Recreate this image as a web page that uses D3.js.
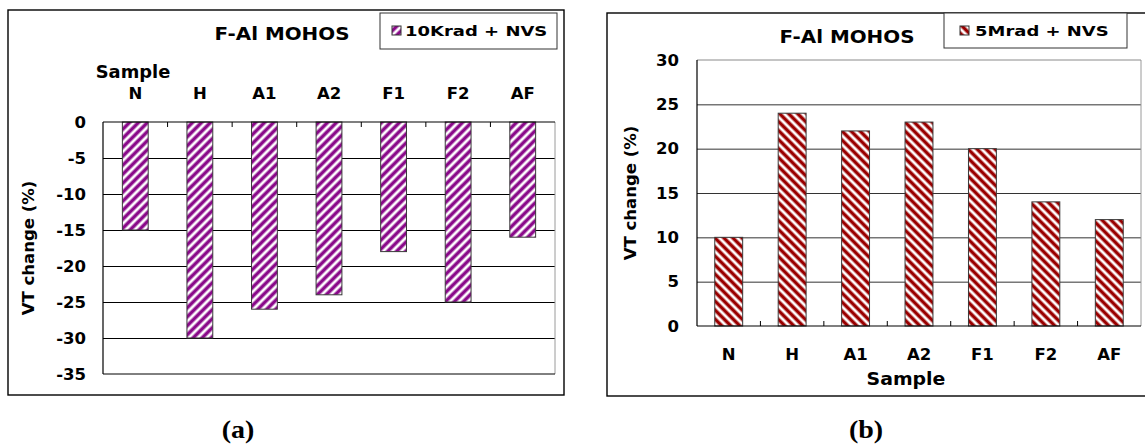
<!DOCTYPE html>
<html>
<head>
<meta charset="utf-8">
<script src="https://cdn.jsdelivr.net/npm/d3@7"></script>
<style>
  body { margin: 0; background: #fff; }
  svg { display: block; font-family: "DejaVu Sans", Arial, sans-serif; font-weight: bold; }
</style>
</head>
<body>
<svg id="chart" width="1145" height="448"></svg>
<script>
// data
const samples = ["N", "H", "A1", "A2", "F1", "F2", "AF"];
const shift10Krad = [-15, -30, -26, -24, -18, -25, -16];
const shift5Mrad = [10, 24, 22, 23, 20, 14, 12];
const ticksA = [0, -5, -10, -15, -20, -25, -30, -35];
const ticksB = [0, 5, 10, 15, 20, 25, 30];

const svg = d3.select("#chart");

// hatch patterns
const defs = svg.append("defs");
function hatch(id, color, soft, forward) {
  let p = defs.append("pattern")
    .attr("id", id)
    .attr("patternUnits", "userSpaceOnUse")
    .attr("width", 9).attr("height", 9);
  p.append("rect").attr("width", 9).attr("height", 9).attr("fill", "#fff");
  let d = forward
    ? "M0,9 L9,0 M-2,2 L2,-2 M7,11 L11,7"
    : "M0,0 L9,9 M-2,7 L2,11 M7,-2 L11,2";
  p.append("path").attr("d", d).attr("stroke", soft).attr("stroke-width", 4.6);
  p.append("path").attr("d", d).attr("stroke", color).attr("stroke-width", 2.8);
}
hatch("hatchA", "#8a0a8a", "#cf9acf", true);
hatch("hatchB", "#9a0000", "#d89a9a", false);

function txt(g, x, y, s, size, anchor, sx) {
  return g.append("text")
    .attr("transform", "translate(" + x + "," + y + ") scale(" + sx + ",1)")
    .attr("text-anchor", anchor)
    .style("font-size", size + "px")
    .text(s);
}

function drawPanel(cfg) {
  let g = svg.append("g");
  let x = d3.scaleBand()
    .domain(samples)
    .range([cfg.left, cfg.right])
    .paddingInner(cfg.padIn)
    .paddingOuter(cfg.padIn / 2);
  let y = d3.scaleLinear()
    .domain(cfg.domain)
    .range([cfg.top, cfg.bottom]);

  // frame
  g.append("rect")
    .attr("x", cfg.frame[0]).attr("y", cfg.frame[1])
    .attr("width", cfg.frame[2] - cfg.frame[0])
    .attr("height", cfg.frame[3] - cfg.frame[1])
    .attr("fill", "none").attr("stroke", "#000").attr("stroke-width", 1.4);

  // gridlines
  let grid = g.append("g")
    .attr("transform", "translate(" + cfg.left + ",0)")
    .call(d3.axisLeft(y).tickValues(cfg.ticks).tickSize(-(cfg.right - cfg.left)).tickFormat(""));
  grid.select(".domain").remove();
  grid.selectAll("line").attr("stroke", cfg.gridColor).attr("stroke-width", 1);
  grid.selectAll(".tick").filter(d => d === cfg.domain[0] || d === cfg.domain[1]).remove();

  // plot border (gray on the far sides)
  g.append("line")
    .attr("x1", cfg.right).attr("x2", cfg.right)
    .attr("y1", cfg.top).attr("y2", cfg.bottom)
    .attr("stroke", "#9a9a9a");
  g.append("line")
    .attr("x1", cfg.left).attr("x2", cfg.right)
    .attr("y1", y(cfg.farEnd)).attr("y2", y(cfg.farEnd))
    .attr("stroke", cfg.farColor);

  // bars
  g.selectAll("rect.bar")
    .data(cfg.values)
    .enter().append("rect")
    .attr("class", "bar")
    .attr("x", (d, i) => x(samples[i]))
    .attr("width", x.bandwidth())
    .attr("y", d => Math.min(y(0), y(d)))
    .attr("height", d => Math.abs(y(d) - y(0)))
    .attr("fill", "url(#" + cfg.pattern + ")")
    .attr("stroke", "#3a3a3a")
    .attr("stroke-width", 1);

  // category axis at value 0
  let catAxis = cfg.catTop ? d3.axisTop(x) : d3.axisBottom(x);
  let cat = g.append("g")
    .attr("transform", "translate(0," + y(0) + ")")
    .call(catAxis.tickSize(0).tickPadding(cfg.catPad));
  cat.attr("font-size", null).attr("font-family", null);
  cat.select(".domain").remove();
  cat.selectAll("text")
    .style("font-size", "16.5px").attr("fill", "#000");
  g.append("line")
    .attr("x1", cfg.left).attr("x2", cfg.right)
    .attr("y1", y(0)).attr("y2", y(0))
    .attr("stroke", "#000").attr("stroke-width", 1.2);

  // small ticks between categories, pointing into the plot
  let half = (x.step() - x.bandwidth()) / 2;
  let dir = cfg.catTop ? 1 : -1;
  g.selectAll("line.cb")
    .data(samples.slice(1))
    .enter().append("line")
    .attr("class", "cb")
    .attr("x1", d => x(d) - half).attr("x2", d => x(d) - half)
    .attr("y1", y(0)).attr("y2", y(0) + dir * 5)
    .attr("stroke", "#000");

  // value axis (plain hyphen like the original)
  let val = g.append("g")
    .attr("transform", "translate(" + cfg.left + ",0)")
    .call(d3.axisLeft(y).tickValues(cfg.ticks).tickFormat(d => String(d))
      .tickSize(0).tickPadding(cfg.left - cfg.labelRight));
  val.attr("font-size", null).attr("font-family", null);
  val.select(".domain").remove();
  val.selectAll("text")
    .style("font-size", "16.5px").attr("fill", "#000");
  g.append("line")
    .attr("x1", cfg.left).attr("x2", cfg.left)
    .attr("y1", cfg.top).attr("y2", cfg.bottom)
    .attr("stroke", "#000").attr("stroke-width", 1.2);

  // axis title
  g.append("text")
    .attr("transform", "translate(" + cfg.yTitleX + "," + (cfg.top + cfg.bottom) / 2 + ") rotate(-90)")
    .attr("text-anchor", "middle")
    .attr("dy", "0.35em")
    .style("font-size", "16.5px")
    .text("VT change (%)");

  txt(g, cfg.sample[0], cfg.sample[1], "Sample", cfg.sample[2], "middle", 1.05);
  txt(g, cfg.titleX, cfg.titleY, "F-Al MOHOS", 17, "middle", 1.17);

  // legend
  let L = cfg.legend;
  g.append("rect")
    .attr("x", L.x0).attr("y", L.y0)
    .attr("width", L.x1 - L.x0).attr("height", L.y1 - L.y0)
    .attr("fill", "#fff").attr("stroke", "#333").attr("stroke-width", 1);
  g.append("rect")
    .attr("x", L.ix).attr("y", L.iy).attr("width", 9).attr("height", 9)
    .attr("fill", "url(#" + cfg.pattern + ")")
    .attr("stroke", "#333");
  txt(g, L.tx, L.ty, cfg.series, 14.5, "start", 1.24);

  txt(g, cfg.caption[0], 438, cfg.caption[1], 25, "middle", 1.12)
    .style("font-family", "'Liberation Serif', 'DejaVu Serif', serif");
}

drawPanel({
  left: 103, right: 555, top: 122, bottom: 374,
  domain: [0, -35], ticks: ticksA, padIn: 0.6, catPad: 23,
  values: shift10Krad, pattern: "hatchA", series: "10Krad + NVS",
  catTop: true, gridColor: "#000", farEnd: -35, farColor: "#000",
  frame: [8, 10, 564, 395], labelRight: 86, yTitleX: 28,
  sample: [133, 78, 17], titleX: 282, titleY: 40,
  legend: { x0: 380, y0: 13, x1: 557, y1: 49, ix: 392, iy: 26, tx: 405, ty: 36 },
  caption: [238, "(a)"]
});

drawPanel({
  left: 697, right: 1141, top: 60, bottom: 326,
  domain: [30, 0], ticks: ticksB, padIn: 0.56, catPad: 22,
  values: shift5Mrad, pattern: "hatchB", series: "5Mrad + NVS",
  catTop: false, gridColor: "#333", farEnd: 30, farColor: "#8a8a8a",
  frame: [607, 13, 1152, 396], labelRight: 679, yTitleX: 630,
  sample: [906, 385, 18], titleX: 847, titleY: 43,
  legend: { x0: 944, y0: 13, x1: 1127, y1: 48, ix: 960, iy: 26, tx: 975, ty: 36 },
  caption: [866, "(b)"]
});
</script>
</body>
</html>
